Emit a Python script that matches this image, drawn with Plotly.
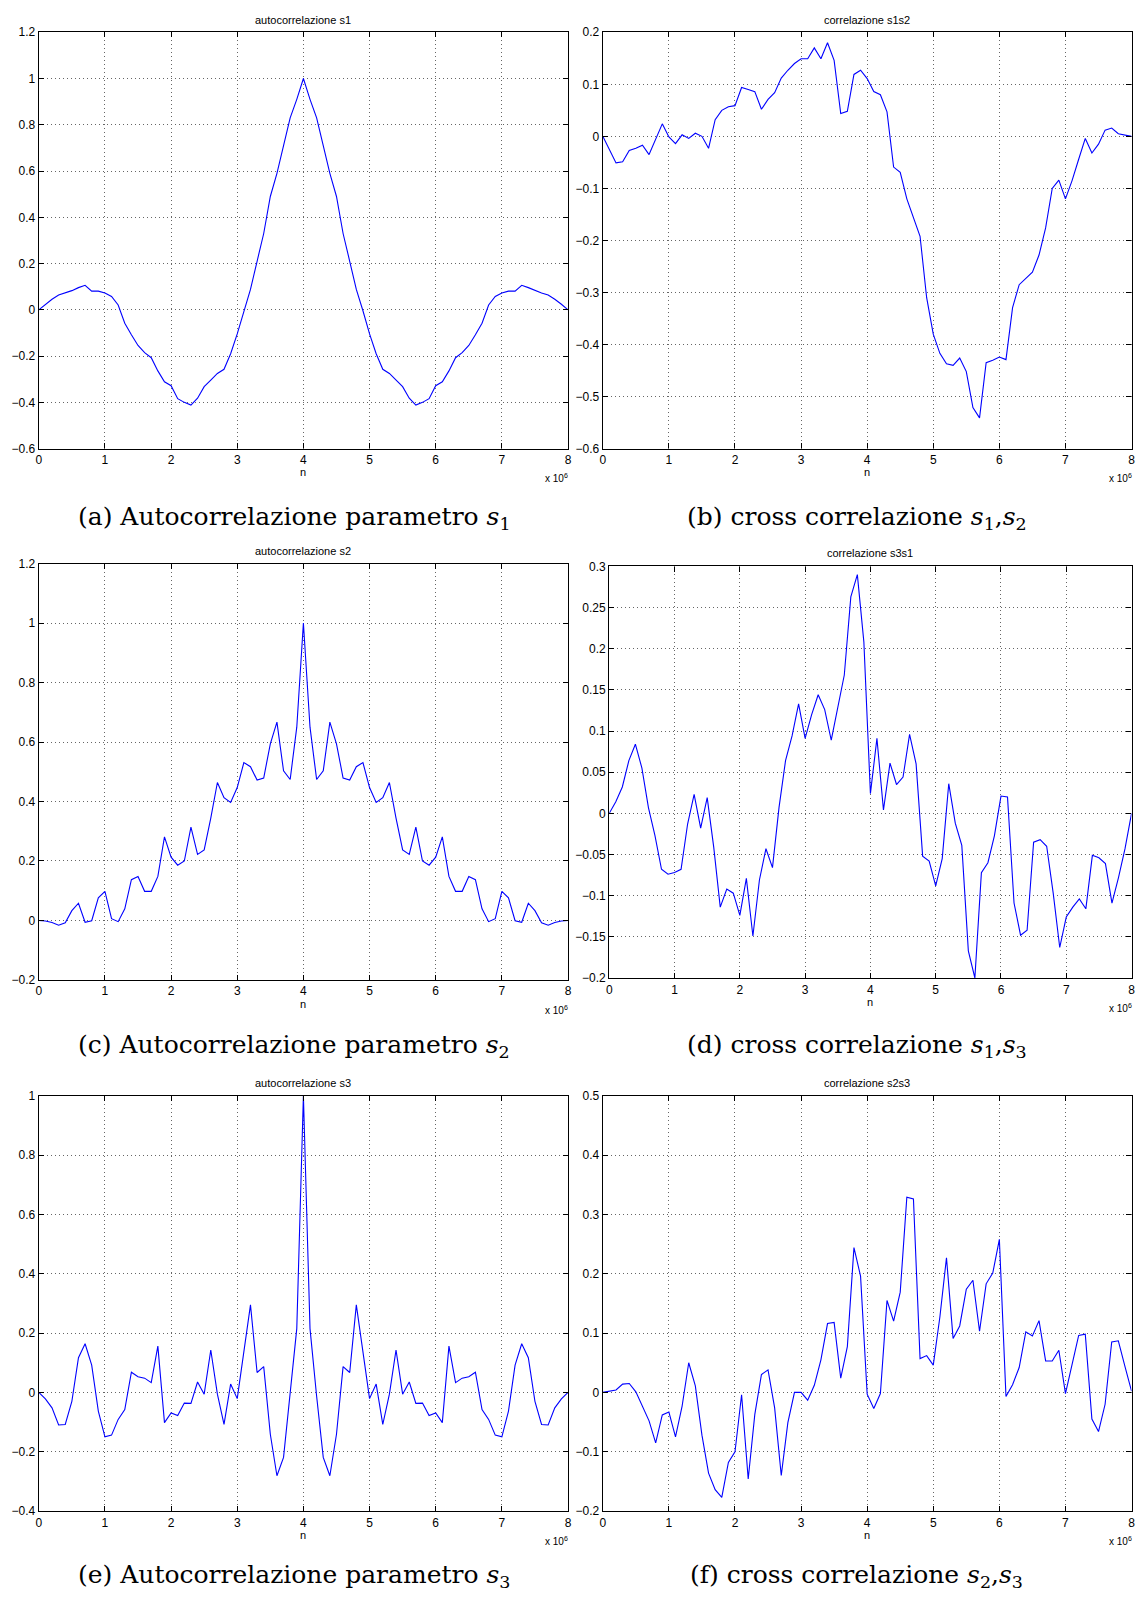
import plotly.graph_objects as go

# ---------------- data ----------------
lag = [i * 100000 for i in range(81)]  # 0 .. 8e6, step 1e5

auto_s1 = [0, 0.024, 0.046, 0.064, 0.073, 0.083, 0.096, 0.106, 0.081, 0.081,
           0.073, 0.058, 0.021, -0.058, -0.108, -0.154, -0.185, -0.207, -0.264, -0.311,
           -0.328, -0.384, -0.400, -0.412, -0.382, -0.332, -0.304, -0.275, -0.257, -0.19,
           -0.104, -0.004, 0.088, 0.21, 0.33, 0.49, 0.59, 0.71, 0.83, 0.91,
           1.0,
           0.91, 0.83, 0.71, 0.59, 0.49, 0.33, 0.21, 0.088, -0.004, -0.104,
           -0.19, -0.257, -0.275, -0.304, -0.332, -0.382, -0.412, -0.400, -0.384, -0.328,
           -0.311, -0.264, -0.207, -0.185, -0.154, -0.108, -0.058, 0.021, 0.058, 0.073,
           0.081, 0.081, 0.106, 0.096, 0.083, 0.073, 0.064, 0.046, 0.024, 0]

corr_s1s2 = [0, -0.025, -0.051, -0.049, -0.027, -0.023, -0.017, -0.035, -0.005, 0.024,
             -0.001, -0.014, 0.003, -0.004, 0.006, 0.0, -0.023, 0.032, 0.05, 0.057,
             0.059, 0.094, 0.09, 0.086, 0.052, 0.071, 0.084, 0.112, 0.127, 0.140,
             0.149, 0.149, 0.170, 0.149, 0.180, 0.146, 0.044, 0.048, 0.119, 0.127,
             0.111, 0.086, 0.080, 0.047, -0.059, -0.069, -0.120, -0.155, -0.192, -0.310,
             -0.38, -0.417, -0.437, -0.440, -0.426, -0.452, -0.521, -0.541, -0.435, -0.430,
             -0.424, -0.429, -0.329, -0.285, -0.272, -0.261, -0.228, -0.176, -0.100, -0.084,
             -0.120, -0.085, -0.044, -0.004, -0.032, -0.015, 0.012, 0.016, 0.005, 0.003, 0]

auto_s2 = [0, -0.002, -0.007, -0.016, -0.008, 0.033, 0.058, -0.006, -0.001, 0.076,
           0.098, 0.006, -0.004, 0.039, 0.137, 0.148, 0.098, 0.098, 0.148, 0.281,
           0.213, 0.186, 0.2, 0.314, 0.222, 0.237, 0.344, 0.464, 0.413, 0.397,
           0.447, 0.531, 0.517, 0.472, 0.479, 0.594, 0.667, 0.503, 0.474, 0.650,
           1.0,
           0.650, 0.474, 0.503, 0.667, 0.594, 0.479, 0.472, 0.517, 0.531, 0.447,
           0.397, 0.413, 0.464, 0.344, 0.237, 0.222, 0.314, 0.2, 0.186, 0.213,
           0.281, 0.148, 0.098, 0.098, 0.148, 0.137, 0.039, -0.004, 0.006, 0.098,
           0.076, -0.001, -0.006, 0.058, 0.033, -0.008, -0.016, -0.007, -0.002, 0]

corr_s3s1 = [0, 0.014, 0.032, 0.064, 0.084, 0.055, 0.007, -0.027, -0.068, -0.074,
             -0.072, -0.068, -0.013, 0.023, -0.018, 0.019, -0.041, -0.114, -0.092, -0.097,
             -0.124, -0.079, -0.149, -0.081, -0.043, -0.066, 0.007, 0.064, 0.094, 0.133,
             0.091, 0.12, 0.144, 0.126, 0.089, 0.128, 0.168, 0.263, 0.290, 0.208,
             0.024, 0.091, 0.004, 0.061, 0.035, 0.044, 0.096, 0.06, -0.052, -0.058,
             -0.088, -0.055, 0.036, -0.012, -0.039, -0.167, -0.200, -0.072, -0.06, -0.027,
             0.021, 0.020, -0.109, -0.148, -0.142, -0.035, -0.032, -0.040, -0.097, -0.163,
             -0.126, -0.114, -0.104, -0.116, -0.051, -0.054, -0.061, -0.109, -0.078, -0.043, 0]

auto_s3 = [0, -0.022, -0.052, -0.110, -0.108, -0.03, 0.117, 0.164, 0.092, -0.063,
           -0.150, -0.144, -0.091, -0.058, 0.068, 0.053, 0.048, 0.033, 0.156, -0.102,
           -0.069, -0.078, -0.036, -0.037, 0.035, -0.006, 0.143, -0.006, -0.108, 0.028,
           -0.021, 0.137, 0.295, 0.067, 0.087, -0.141, -0.281, -0.219, -0.013, 0.215,
           1.0,
           0.215, -0.013, -0.219, -0.281, -0.141, 0.087, 0.067, 0.295, 0.137, -0.021,
           0.028, -0.108, -0.006, 0.143, -0.006, 0.035, -0.037, -0.036, -0.078, -0.069,
           -0.102, 0.156, 0.033, 0.048, 0.053, 0.068, -0.058, -0.091, -0.144, -0.150,
           -0.063, 0.092, 0.164, 0.117, -0.03, -0.108, -0.110, -0.052, -0.022, 0]

corr_s2s3 = [0, 0.002, 0.004, 0.014, 0.015, 0.001, -0.023, -0.048, -0.085, -0.038,
             -0.033, -0.075, -0.023, 0.050, 0.011, -0.072, -0.136, -0.164, -0.177, -0.118,
             -0.100, -0.004, -0.146, -0.037, 0.030, 0.038, -0.026, -0.140, -0.051, 0.0,
             0.0, -0.013, 0.012, 0.055, 0.116, 0.118, 0.024, 0.077, 0.244, 0.196,
             -0.003, -0.027, -0.002, 0.155, 0.120, 0.169, 0.329, 0.326, 0.057, 0.062,
             0.046, 0.127, 0.227, 0.091, 0.112, 0.174, 0.189, 0.103, 0.183, 0.201,
             0.258, -0.007, 0.013, 0.042, 0.102, 0.095, 0.121, 0.053, 0.053, 0.071,
             -0.002, 0.049, 0.096, 0.098, -0.045, -0.066, -0.020, 0.085, 0.087, 0.044, 0.002]

x_tickvals = [0, 1e6, 2e6, 3e6, 4e6, 5e6, 6e6, 7e6, 8e6]
x_ticktext = ["0", "1", "2", "3", "4", "5", "6", "7", "8"]

yt_a = [-0.6, -0.4, -0.2, 0, 0.2, 0.4, 0.6, 0.8, 1.0, 1.2]
yl_a = ["\u22120.6", "\u22120.4", "\u22120.2", "0", "0.2", "0.4", "0.6", "0.8", "1", "1.2"]
yt_b = [-0.6, -0.5, -0.4, -0.3, -0.2, -0.1, 0, 0.1, 0.2]
yl_b = ["\u22120.6", "\u22120.5", "\u22120.4", "\u22120.3", "\u22120.2", "\u22120.1", "0", "0.1", "0.2"]
yt_c = [-0.2, 0, 0.2, 0.4, 0.6, 0.8, 1.0, 1.2]
yl_c = ["\u22120.2", "0", "0.2", "0.4", "0.6", "0.8", "1", "1.2"]
yt_d = [-0.2, -0.15, -0.1, -0.05, 0, 0.05, 0.1, 0.15, 0.2, 0.25, 0.3]
yl_d = ["\u22120.2", "\u22120.15", "\u22120.1", "\u22120.05", "0", "0.05", "0.1", "0.15", "0.2", "0.25", "0.3"]
yt_e = [-0.4, -0.2, 0, 0.2, 0.4, 0.6, 0.8, 1.0]
yl_e = ["\u22120.4", "\u22120.2", "0", "0.2", "0.4", "0.6", "0.8", "1"]
yt_f = [-0.2, -0.1, 0, 0.1, 0.2, 0.3, 0.4, 0.5]
yl_f = ["\u22120.2", "\u22120.1", "0", "0.1", "0.2", "0.3", "0.4", "0.5"]

titles = ["autocorrelazione s1", "correlazione s1s2", "autocorrelazione s2",
          "correlazione s3s1", "autocorrelazione s3", "correlazione s2s3"]
captions = ["(a) Autocorrelazione parametro <i>s</i><sub>1</sub>",
            "(b) cross correlazione <i>s</i><sub>1</sub>,<i>s</i><sub>2</sub>",
            "(c) Autocorrelazione parametro <i>s</i><sub>2</sub>",
            "(d) cross correlazione <i>s</i><sub>1</sub>,<i>s</i><sub>3</sub>",
            "(e) Autocorrelazione parametro <i>s</i><sub>3</sub>",
            "(f) cross correlazione <i>s</i><sub>2</sub>,<i>s</i><sub>3</sub>"]

series = [auto_s1, corr_s1s2, auto_s2, corr_s3s1, auto_s3, corr_s2s3]
yranges = [(-0.6, 1.2), (-0.6, 0.2), (-0.2, 1.2), (-0.2, 0.3), (-0.4, 1.0), (-0.2, 0.5)]
yticks = [(yt_a, yl_a), (yt_b, yl_b), (yt_c, yl_c), (yt_d, yl_d), (yt_e, yl_e), (yt_f, yl_f)]

# ---------------- layout (pixel boxes) ----------------
W, H = 1143, 1606
boxes = [  # left, right, top, bottom (px)
    (36, 568.5, 25.5, 445.5),
    (603.5, 1135.5, 25.5, 445.5),
    (36, 568.5, 561.5, 981.5),
    (610, 1135.5, 564.3, 979.5),
    (36, 568.5, 1098.3, 1517.3),
    (603.5, 1135.5, 1098.3, 1517.3),
]
title_y = [13, 13, 549, 551, 1085, 1085]
caption_pos = [(293, 515), (859, 515), (293, 1048), (859, 1048), (293, 1583), (859, 1583)]

def px(x):
    return x / W

def py(y):
    return 1 - y / H

fig = go.Figure()
annotations = []
tick_font = dict(family="Liberation Sans, Arial, sans-serif", size=12, color="black")
title_font = dict(family="Liberation Sans, Arial, sans-serif", size=11, color="black")

for i in range(6):
    L, R, T, B = boxes[i]
    n = "" if i == 0 else str(i + 1)
    fig.add_trace(go.Scatter(x=lag, y=series[i], mode="lines",
                             line=dict(color="#0000ff", width=1.1),
                             xaxis="x" + n, yaxis="y" + n, showlegend=False,
                             hoverinfo="skip"))
    common = dict(showline=True, mirror="ticks", linecolor="black", linewidth=1.3,
                  ticks="inside", ticklen=5, tickcolor="black", tickwidth=1,
                  showgrid=True, gridcolor="#666666", gridwidth=1, griddash="1px,3px",
                  zeroline=False, tickfont=tick_font, fixedrange=True)
    fig.layout["xaxis" + n] = dict(domain=[px(L), px(R)], anchor="y" + n,
                                   range=[0, 8e6], tickvals=x_tickvals,
                                   ticktext=x_ticktext, **common)
    tv, tl = yticks[i]
    fig.layout["yaxis" + n] = dict(domain=[py(B), py(T)], anchor="x" + n,
                                   range=list(yranges[i]), tickvals=tv,
                                   ticktext=tl, **common)
    cx = (L + R) / 2
    annotations.append(dict(text=titles[i], x=px(cx), y=py(title_y[i]), xref="paper",
                            yref="paper", showarrow=False, xanchor="center",
                            yanchor="middle", font=title_font))
    annotations.append(dict(text="n", x=px(cx), y=py(B + 24), xref="paper",
                            yref="paper", showarrow=False, xanchor="center",
                            yanchor="middle", font=title_font))
    annotations.append(dict(text="x 10<sup>6</sup>", x=px(R + 2), y=py(B + 30),
                            xref="paper", yref="paper", showarrow=False,
                            xanchor="right", yanchor="middle",
                            font=dict(family="Liberation Sans, Arial, sans-serif",
                                      size=10, color="black")))
    cxp, cyp = caption_pos[i]
    annotations.append(dict(text=captions[i], x=px(cxp), y=py(cyp), xref="paper",
                            yref="paper", showarrow=False, xanchor="center",
                            yanchor="middle",
                            font=dict(family="DejaVu Serif, Liberation Serif, serif",
                                      size=25, color="black")))

fig.update_layout(width=W, height=H, margin=dict(l=0, r=0, t=0, b=0),
                  paper_bgcolor="white", plot_bgcolor="white",
                  annotations=annotations, showlegend=False)

fig.write_html("out.html", config={"displayModeBar": False})
